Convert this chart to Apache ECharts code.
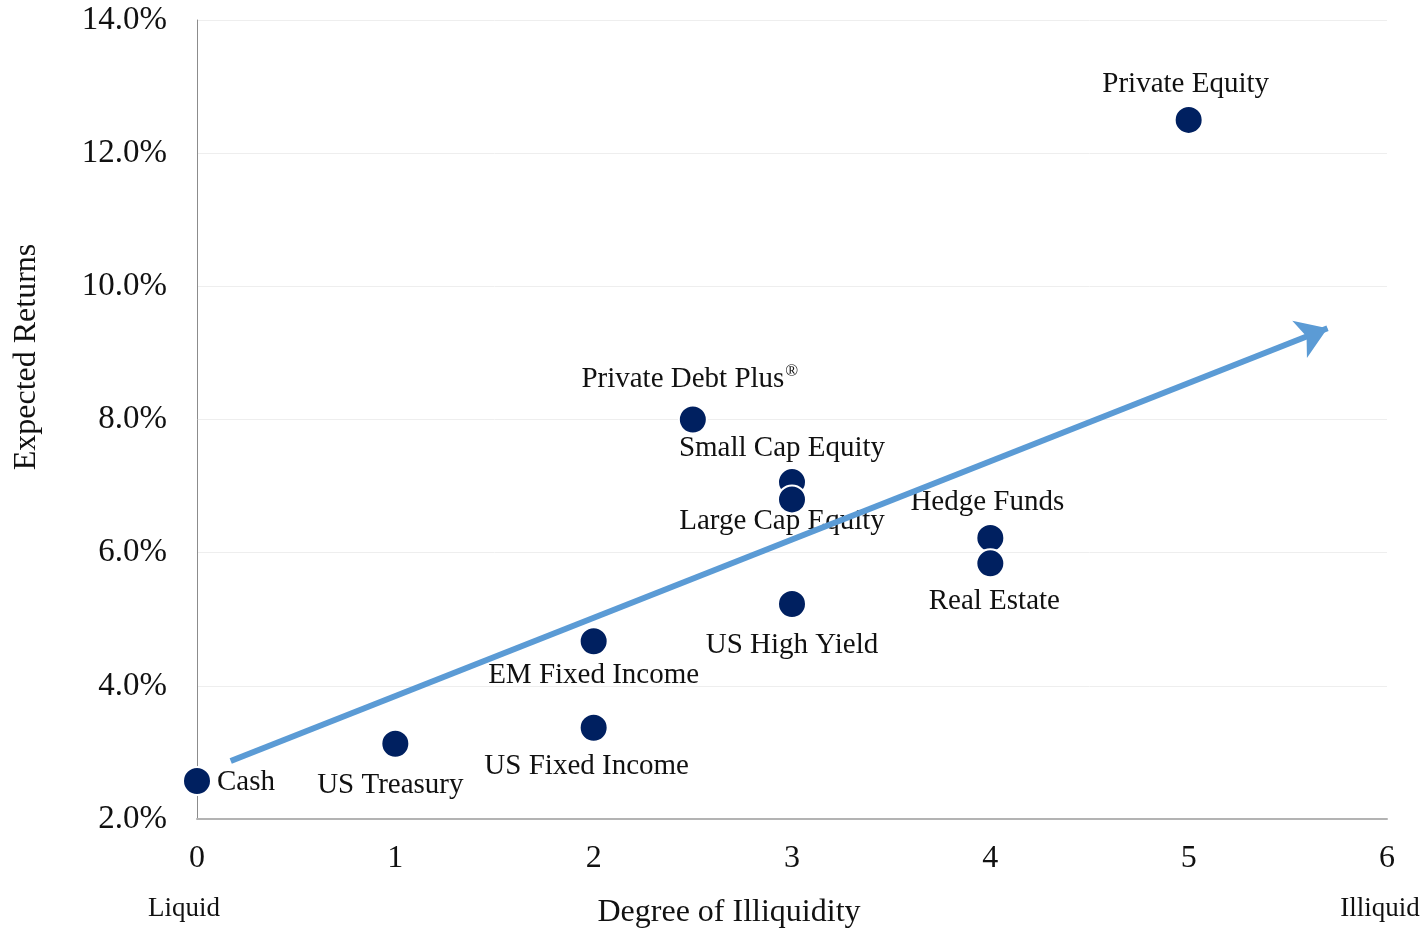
<!DOCTYPE html>
<html>
<head>
<meta charset="utf-8">
<script src="https://cdn.jsdelivr.net/npm/echarts@6/dist/echarts.min.js"></script>
<style>
  html, body { margin: 0; padding: 0; background: #fff; }
  #chart { width: 1427px; height: 929px; }
</style>
</head>
<body>
<div id="chart"></div>
<script>
// Asset classes: illiquidity score vs expected annual return (%)
const assetNames = ['Cash', 'US Treasury', 'US Fixed Income', 'EM Fixed Income', 'Private Debt Plus®',
  'Small Cap Equity', 'Large Cap Equity', 'US High Yield', 'Hedge Funds', 'Real Estate', 'Private Equity'];
const illiquidity = [0, 1, 2, 2, 2.5, 3, 3, 3, 4, 4, 5];
const expectedReturn = [2.57, 3.13, 3.37, 4.67, 8.0, 7.06, 6.8, 5.23, 6.22, 5.84, 12.5];

// Trend arrow endpoints [illiquidity, return]
const trendStart = [0.17, 2.87];
const trendEnd = [5.7, 9.37];

const xTicks = { min: 0, max: 6, step: 1 };
const yTicks = { min: 2, max: 14, step: 2 };

// Where each asset's label sits around its marker
const labelSide = {
  'Cash': 'right', 'US Treasury': 'bottom', 'US Fixed Income': 'bottom', 'EM Fixed Income': 'bottom',
  'Private Debt Plus®': 'top', 'Small Cap Equity': 'top', 'Large Cap Equity': 'bottom',
  'US High Yield': 'bottom', 'Hedge Funds': 'top', 'Real Estate': 'bottom', 'Private Equity': 'top'
};
const labelShift = {
  'US Treasury': [-5, 0], 'US Fixed Income': [-7, -3], 'EM Fixed Income': [0, -7],
  'Small Cap Equity': [-10, 8], 'Large Cap Equity': [-10, -20], 'Hedge Funds': [-3, 6],
  'Real Estate': [4, -3], 'Private Equity': [-3, 6], 'Private Debt Plus®': [-3, 2], 'Cash': [0, 1]
};

const serif = '"Liberation Serif", "Times New Roman", serif';

const points = assetNames.map((name, i) => ({
  name: name,
  value: [illiquidity[i], expectedReturn[i]],
  label: {
    position: labelSide[name],
    distance: labelSide[name] === 'right' ? 5 : 12,
    offset: labelShift[name] || [0, 0]
  }
}));

const chart = echarts.init(document.getElementById('chart'));
chart.setOption({
  backgroundColor: '#ffffff',
  animation: false,
  grid: { left: 197, right: 40, top: 20, bottom: 110, containLabel: false },
  xAxis: {
    type: 'value',
    min: xTicks.min, max: xTicks.max, interval: xTicks.step,
    axisLine: { show: true, lineStyle: { color: '#b3b3b3', width: 2 } },
    axisTick: { show: false },
    splitLine: { show: false },
    axisLabel: { color: '#111111', fontFamily: serif, fontSize: 32, margin: 24 }
  },
  yAxis: {
    type: 'value',
    min: yTicks.min, max: yTicks.max, interval: yTicks.step,
    axisLine: { show: true, lineStyle: { color: '#8c8c8c', width: 1 } },
    axisTick: { show: false },
    splitLine: { show: true, lineStyle: { color: '#eeeeee', width: 1 } },
    axisLabel: {
      color: '#111111', fontFamily: serif, fontSize: 33, margin: 30,
      padding: [4, 0, 0, 0],
      formatter: v => v.toFixed(1) + '%'
    }
  },
  graphic: [
    {
      type: 'text', x: 27, y: 357, rotation: Math.PI / 2,
      style: { text: 'Expected Returns', font: '32px ' + serif, fill: '#111111',
        textAlign: 'center', textVerticalAlign: 'middle' }
    },
    {
      type: 'text', x: 729, y: 913,
      style: { text: 'Degree of Illiquidity', font: '32px ' + serif, fill: '#111111',
        textAlign: 'center', textVerticalAlign: 'middle' }
    },
    {
      type: 'text', x: 184, y: 909,
      style: { text: 'Liquid', font: '27px ' + serif, fill: '#111111',
        textAlign: 'center', textVerticalAlign: 'middle' }
    },
    {
      type: 'text', x: 1380, y: 909,
      style: { text: 'Illiquid', font: '27px ' + serif, fill: '#111111',
        textAlign: 'center', textVerticalAlign: 'middle' }
    }
  ],
  series: [
    {
      type: 'scatter',
      z: 2,
      symbol: 'circle',
      symbolSize: 28,
      itemStyle: { color: '#002060', borderColor: '#ffffff', borderWidth: 2, opacity: 1 },
      label: {
        show: true,
        // trademark sign set as a superscript
        formatter: p => p.name.replace('®', '{sup|®}'),
        color: '#111111',
        opacity: 1,
        fontFamily: serif,
        fontSize: 29,
        rich: {
          sup: { fontFamily: serif, fontSize: 17, color: '#111111', padding: [0, 0, 14, 1] }
        }
      },
      emphasis: { disabled: true },
      data: points
    },
    {
      type: 'lines',
      coordinateSystem: 'cartesian2d',
      z: 10,
      silent: true,
      symbol: ['none', 'arrow'],
      symbolSize: [28, 30],
      lineStyle: { color: '#5b9bd5', width: 6, opacity: 1 },
      data: [{ coords: [trendStart, trendEnd] }]
    }
  ]
});
</script>
</body>
</html>
